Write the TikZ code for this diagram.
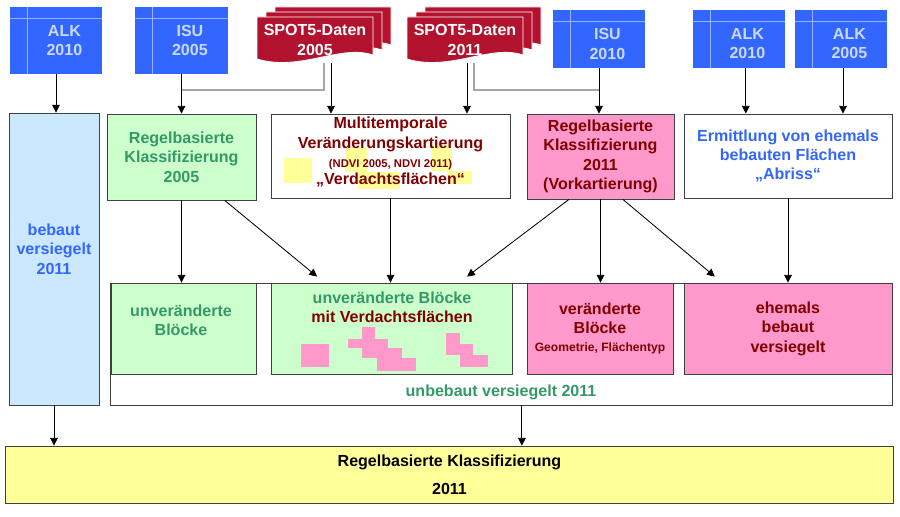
\documentclass[tikz,border=0pt]{standalone}
\usepackage{fontspec}
\setmainfont{Liberation Sans}
\usetikzlibrary{arrows.meta,positioning,calc}
\definecolor{DbBlue}{HTML}{3366FF}
\definecolor{DbLine}{HTML}{99B3FF}
\definecolor{DbText}{HTML}{C8DAFF}
\definecolor{SpotRed}{HTML}{B3122E}
\definecolor{FillGreen}{HTML}{CCFFCC}
\definecolor{TextGreen}{HTML}{339966}
\definecolor{FillPink}{HTML}{FF99CC}
\definecolor{TextRed}{HTML}{800000}
\definecolor{TextBlue}{HTML}{3366FF}
\definecolor{FillBlue}{HTML}{CCE8FF}
\definecolor{FillYellow}{HTML}{FFFF99}
\tikzset{
    % Base box
    basenode/.style={
        draw=black!75,
        line width=0.6pt,
        inner sep=0pt,
        align=center,
        font=\bfseries\fontsize{11.4}{13.8}\selectfont
    },
    % Text only
    textnode/.style={
        inner sep=0pt,
        align=center,
        font=\bfseries\fontsize{11.4}{13.8}\selectfont
    },
    % Data source (ALK, ISU)
    dbnode/.style={
        fill=DbBlue,
        minimum width=2.3cm,
        inner sep=0pt,
        path picture={
            \draw[DbLine, line width=0.8pt] ([yshift=-0.28cm]path picture bounding box.north west) -- ([yshift=-0.28cm]path picture bounding box.north east);
            \draw[DbLine, line width=0.8pt] ([xshift=0.43cm]path picture bounding box.north west) -- ([xshift=0.43cm]path picture bounding box.south west);
        }
    },
    dbtext/.style={
        textnode,
        text=DbText
    },
    % Satellite data
    spotnode/.style={
        textnode,
        text=white,
        minimum width=2.9cm,
        minimum height=1.15cm
    },
    spotsheet/.style={
        fill=SpotRed,
        draw=white,
        line width=0.6pt
    },
    greennode/.style={
        basenode,
        fill=FillGreen,
        text=TextGreen
    },
    pinknode/.style={
        basenode,
        fill=FillPink,
        text=TextRed
    },
    whitenode/.style={
        basenode,
        fill=white
    },
    % Arrow styles
    myarrow/.style={
        -{Triangle[width=5.5pt,length=5.5pt]},
        line width=0.6pt,
        draw=black
    },
    feedline/.style={
        draw=gray!70,
        line width=1.1pt
    }
}
\begin{document}
\begin{tikzpicture}[x=0.025cm, y=-0.025cm]
    \useasboundingbox (0,0) rectangle (900,517);

    % Input data
    \node[dbnode, minimum height=1.675cm] (alk10a) at (56,40.5) {};
    \node[dbnode, minimum height=1.675cm] (isu05) at (181.5,40.5) {};
    \node[dbnode, minimum height=1.45cm] (isu10) at (599,39) {};
    \node[dbnode, minimum height=1.45cm] (alk10b) at (739,39) {};
    \node[dbnode, minimum height=1.45cm] (alk05) at (841,39) {};
    \node[dbtext] (alk10atxt) at ([xshift=0.21cm]alk10a.center) {ALK\\2010};
    \node[dbtext] (isu05txt) at ([xshift=0.21cm]isu05.center) {ISU\\2005};
    \node[dbtext] (isu10txt) at ([xshift=0.21cm,yshift=-0.12cm]isu10.center) {ISU\\2010};
    \node[dbtext] (alk10btxt) at ([xshift=0.21cm,yshift=-0.12cm]alk10b.center) {ALK\\2010};
    \node[dbtext] (alk05txt) at ([xshift=0.21cm,yshift=-0.12cm]alk05.center) {ALK\\2005};

    % SPOT5 sheets
    \foreach \sx in {0,150}
        \foreach \d in {2,1,0}
            \filldraw[spotsheet, shift={(\sx+9*\d,-5*\d)}] (257,17) -- (373,17) -- (373,55) .. controls (340,44) and (300,72) .. (257,59) -- cycle;
    \node[spotnode] (spot05) at (315,40) {SPOT5-Daten\\2005};
    \node[spotnode] (spot11) at (465,40) {SPOT5-Daten\\2011};

    % Processing
    \node[basenode, fill=FillBlue, minimum width=2.25cm, minimum height=7.3cm] (bebaut) at (54,259) {};
    \node[textnode, text=TextBlue] (bebauttxt) at (54,249) {bebaut\\versiegelt\\2011};
    \node[greennode, minimum width=3.725cm, minimum height=2.15cm] (rk05) at (181.5,157) {Regelbasierte\\Klassifizierung\\2005};
    \node[whitenode, minimum width=5.975cm, minimum height=2.1cm] (multi) at (390.5,156) {};
    \foreach \a/\b/\c/\e in {284/158/312/183, 345/147/367/172, 358/172/400/189, 432/145/452/171, 447/171/472/184}
        \fill[FillYellow] (\a,\b) rectangle (\c,\e);
    \node[textnode, text=TextRed] (multitxt) at (390.5,152) {Multitemporale\\Veränderungskartierung\\{\fontsize{8}{9.5}\selectfont (NDVI 2005, NDVI 2011)}\\[-2pt]„Verdachtsflächen“};
    \node[pinknode, minimum width=3.675cm, minimum height=2.125cm] (rk11) at (600.5,156.5) {Regelbasierte\\Klassifizierung\\2011\\(Vorkartierung)};
    \node[whitenode, text=TextBlue, minimum width=5.2cm, minimum height=2.1cm] (ermittl) at (788,156) {Ermittlung von ehemals\\bebauten Flächen\\„Abriss“};

    % Result blocks
    \node[whitenode, minimum width=19.525cm, minimum height=3.05cm] (unbeb) at (501.5,344) {};
    \node[textnode, text=TextGreen] (unbebtxt) at (501,392) {unbebaut versiegelt 2011};
    \node[greennode, minimum width=3.625cm, minimum height=2.275cm] (ub1) at (183.5,328.5) {};
    \node[textnode, text=TextGreen] (ub1txt) at (181,320.5) {unveränderte\\Blöcke};
    \node[greennode, minimum width=6.025cm, minimum height=2.275cm] (ub2) at (391.5,328.5) {};
    \node[textnode, text=TextGreen] (ub2txt) at (392,307.5) {unveränderte Blöcke\\\textcolor{TextRed}{mit Verdachtsflächen}};
    \foreach \a/\b/\c/\e in {301/344/329/367, 362/327/375/339, 348/339/388/348, 362/348/402/358, 377/358/416/371, 446/333/460/344, 446/344/473/355, 460/355/488/367}
        \fill[FillPink] (\a,\b) rectangle (\c,\e);
    \node[pinknode, minimum width=3.65cm, minimum height=2.275cm] (vb) at (600,328.5) {veränderte\\Blöcke\\[-1pt]{\fontsize{8.6}{10}\selectfont Geometrie, Flächentyp}};
    \node[pinknode, minimum width=5.2cm, minimum height=2.275cm] (eb) at (788,328.5) {ehemals\\bebaut\\versiegelt};

    % Final classification
    \node[basenode, fill=FillYellow, text=black, minimum width=22.175cm, minimum height=1.425cm] (final) at (449.5,474.5) {Regelbasierte Klassifizierung\\[6pt]2011};

    % Arrows from inputs
    \draw[myarrow] (alk10a.south) -- (alk10a.south |- bebaut.north);
    \draw[myarrow] (isu05.south) -- (isu05.south |- rk05.north);
    \draw[myarrow] ([xshift=0.4cm]spot05.south) -- ([xshift=0.4cm]spot05.south |- multi.north);
    \draw[myarrow] ([xshift=0.05cm]spot11.south) -- ([xshift=0.05cm]spot11.south |- multi.north);
    \draw[myarrow] (isu10.south) -- (isu10.south |- rk11.north);
    \draw[myarrow] ([xshift=0.17cm]alk10b.south) -- ([xshift=0.17cm]alk10b.south |- ermittl.north);
    \draw[myarrow] ([xshift=0.05cm]alk05.south) -- ([xshift=0.05cm]alk05.south |- ermittl.north);
    \coordinate (j05) at (182,90);
    \coordinate (j11) at (599,90);
    \draw[feedline] ([xshift=0.225cm]spot05.south) |- (j05);
    \draw[feedline] ([xshift=0.225cm]spot11.south) |- (j11);

    % Arrows to result blocks
    \draw[myarrow] (rk05.south) -- (rk05.south |- ub1.north);
    \draw[myarrow] ([xshift=1.08cm]rk05.south) -- ([xshift=-1.86cm,yshift=0.15cm]ub2.north);
    \draw[myarrow] (multi.south) -- (multi.south |- ub2.north);
    \draw[myarrow] ([xshift=-0.79cm]rk11.south) -- ([xshift=1.89cm,yshift=0.15cm]ub2.north);
    \draw[myarrow] (rk11.south) -- (rk11.south |- vb.north);
    \draw[myarrow] ([xshift=0.56cm]rk11.south) -- ([xshift=-1.83cm,yshift=0.15cm]eb.north);
    \draw[myarrow] (ermittl.south) -- (ermittl.south |- eb.north);

    % Arrows to final classification
    \draw[myarrow] (bebaut.south) -- (bebaut.south |- final.north);
    \draw[myarrow] ([xshift=0.51cm]unbeb.south) -- ([xshift=0.51cm]unbeb.south |- final.north);
\end{tikzpicture}
\end{document}
